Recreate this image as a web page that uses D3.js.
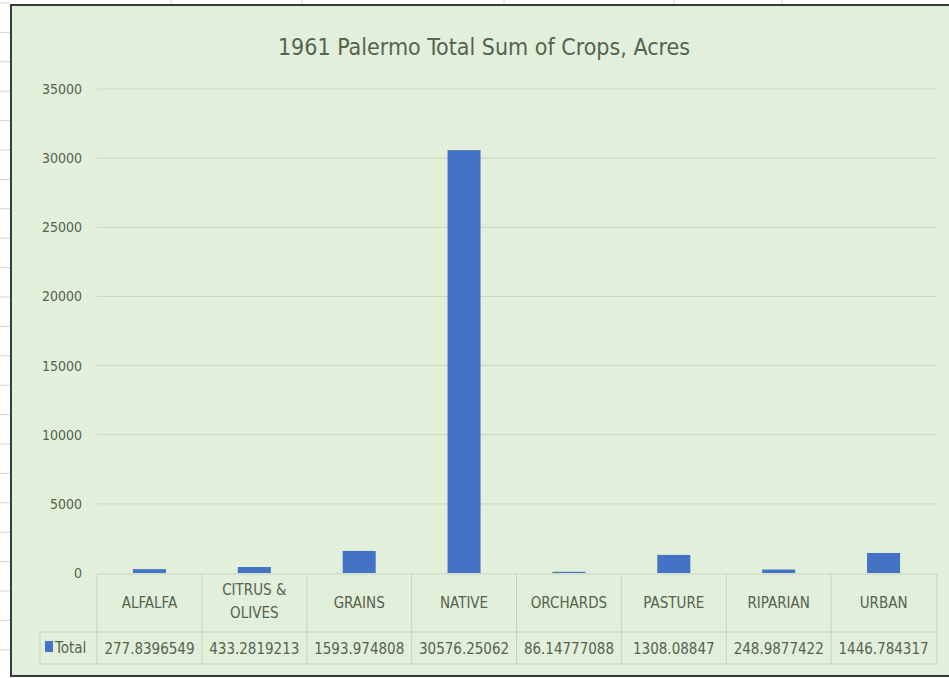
<!DOCTYPE html>
<html>
<head>
<meta charset="utf-8">
<script src="https://cdn.jsdelivr.net/npm/d3@7"></script>
<style>
  body { margin: 0; background: #fff; }
  svg text { font-family: "DejaVu Sans Condensed", "DejaVu Sans", sans-serif; font-stretch: condensed; fill: #56634f; }
</style>
</head>
<body>
<svg id="chart" width="949" height="678"></svg>
<script>
var categories = ["ALFALFA", "CITRUS & OLIVES", "GRAINS", "NATIVE", "ORCHARDS", "PASTURE", "RIPARIAN", "URBAN"];
var totals = [277.8396549, 433.2819213, 1593.974808, 30576.25062, 86.14777088, 1308.08847, 248.9877422, 1446.784317];
var totalLabels = ["277.8396549", "433.2819213", "1593.974808", "30576.25062", "86.14777088", "1308.08847", "248.9877422", "1446.784317"];
var yTicks = [0, 5000, 10000, 15000, 20000, 25000, 30000, 35000];

var svg = d3.select("#chart");

// spreadsheet cells behind the chart
var sheet = svg.append("g");
d3.range(3, 678, 29.4).forEach(function(yy) {
  sheet.append("line").attr("x1", 0).attr("x2", 10).attr("y1", yy).attr("y2", yy)
    .attr("stroke", "#d4d4d4");
});
[171, 302, 504, 674, 782].forEach(function(xx) {
  sheet.append("line").attr("x1", xx).attr("x2", xx).attr("y1", 0).attr("y2", 5)
    .attr("stroke", "#d4d4d4");
});

// chart area
svg.append("rect")
  .attr("x", 11).attr("y", 5).attr("width", 945).attr("height", 671)
  .attr("fill", "#e2efda").attr("stroke", "#3a3a3a").attr("stroke-width", 2);

svg.append("text")
  .attr("x", 484).attr("y", 55)
  .attr("text-anchor", "middle")
  .style("font-size", "23px")
  .text("1961 Palermo Total Sum of Crops, Acres");

var x = d3.scaleBand().domain(categories).range([97, 936]);
var y = d3.scaleLinear().domain([0, 35000]).range([573, 89]);

// gridlines
svg.append("g").selectAll("line").data(yTicks.slice(1)).enter().append("line")
  .attr("x1", 97).attr("x2", 936)
  .attr("y1", function(d) { return y(d); }).attr("y2", function(d) { return y(d); })
  .attr("stroke", "#ccd8c4").attr("stroke-width", 1);

var yAxis = svg.append("g")
  .attr("transform", "translate(82,0)")
  .call(d3.axisLeft(y).tickValues(yTicks).tickSize(0).tickPadding(0).tickFormat(d3.format("d")));
yAxis.select(".domain").remove();
yAxis.selectAll("text").style("font-size", "14px").attr("dy", "0.32em");

// bars
var bw = 33;
svg.append("g").selectAll("rect").data(totals).enter().append("rect")
  .attr("x", function(d, i) { return x(categories[i]) + x.bandwidth() / 2 - bw / 2; })
  .attr("y", function(d) { return y(d); })
  .attr("width", bw)
  .attr("height", function(d) { return y(0) - y(d); })
  .attr("fill", "#4472c4");

// data table
var tbl = svg.append("g").attr("stroke", "#c6d3be").attr("fill", "none");
var rowTop = 574, rowMid = 632, rowBot = 664;
tbl.append("line").attr("x1", 97).attr("x2", 937).attr("y1", rowTop).attr("y2", rowTop);
tbl.append("line").attr("x1", 40).attr("x2", 937).attr("y1", rowMid).attr("y2", rowMid);
tbl.append("line").attr("x1", 40).attr("x2", 937).attr("y1", rowBot).attr("y2", rowBot);
tbl.append("line").attr("x1", 40).attr("x2", 40).attr("y1", rowMid).attr("y2", rowBot);
tbl.selectAll(".v").data(categories).enter().append("line")
  .attr("x1", function(d) { return x(d); }).attr("x2", function(d) { return x(d); })
  .attr("y1", rowTop).attr("y2", rowBot);
tbl.append("line").attr("x1", 937).attr("x2", 937).attr("y1", rowTop).attr("y2", rowBot);

var head = svg.append("g").selectAll("text").data(categories).enter().append("text")
  .attr("x", function(d) { return x(d) + x.bandwidth() / 2; })
  .attr("text-anchor", "middle")
  .style("font-size", "15px");
head.each(function(d) {
  var t = d3.select(this);
  var cx = x(d) + x.bandwidth() / 2;
  if (d === "CITRUS & OLIVES") {
    t.append("tspan").attr("x", cx).attr("y", 595).text("CITRUS &");
    t.append("tspan").attr("x", cx).attr("y", 618).text("OLIVES");
  } else {
    t.attr("y", 608).text(d);
  }
});

svg.append("g").selectAll("text").data(totalLabels).enter().append("text")
  .attr("x", function(d, i) { return x(categories[i]) + x.bandwidth() / 2; })
  .attr("y", 654)
  .attr("text-anchor", "middle")
  .style("font-size", "15px")
  .text(function(d) { return d; });

svg.append("rect").attr("x", 45).attr("y", 641).attr("width", 8).attr("height", 11).attr("fill", "#4472c4");
svg.append("text").attr("x", 55).attr("y", 653).style("font-size", "15px").text("Total");
</script>
</body>
</html>
